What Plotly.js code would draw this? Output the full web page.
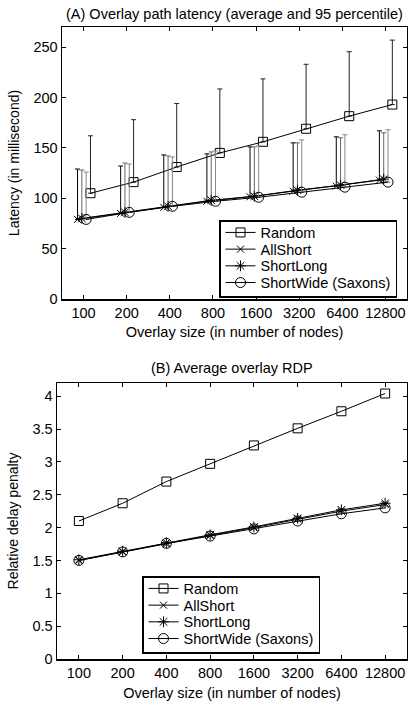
<!DOCTYPE html>
<html>
<head>
<meta charset="utf-8">
<script src="https://cdn.plot.ly/plotly-3.0.1.min.js"></script>
<style>
html,body{margin:0;padding:0;background:#fff;}
#chart{width:408px;height:707px;}
</style>
</head>
<body>
<div id="chart"></div>
<script>
// ---- data ----
const sizes = ['100','200','400','800','1600','3200','6400','12800'];
const seriesNames = ['Random','AllShort','ShortLong','ShortWide (Saxons)'];

// (A) latency: average and 95 percentile (ms)
const randomLat      = [105, 116, 131, 145, 156, 169, 181.5, 193];
const randomLat95    = [162, 178, 194, 208.5, 218.5, 233, 245.5, 257];
const allShortLat    = [79, 85, 91, 97, 101.5, 107, 112, 118];
const allShortLat95  = [129, 132, 143, 144, 151, 155, 161, 167];
const shortLongLat   = [80, 86, 92, 98, 102, 108, 113, 119];
const shortLongLat95 = [128, 135, 142, 146, 151, 155, 160, 165];
const shortWideLat   = [79, 86, 92, 97, 101, 106, 111, 116];
const shortWideLat95 = [126, 134, 141, 147, 152, 158, 163, 168];

// (B) average RDP
const randomRdp    = [2.10, 2.37, 2.70, 2.97, 3.25, 3.51, 3.77, 4.04];
const allShortRdp  = [1.50, 1.63, 1.75, 1.88, 2.00, 2.13, 2.25, 2.35];
const shortLongRdp = [1.51, 1.64, 1.77, 1.89, 2.01, 2.14, 2.27, 2.37];
const shortWideRdp = [1.50, 1.63, 1.76, 1.87, 1.98, 2.10, 2.21, 2.30];

// ---- styles ----
const FONT = 'Liberation Sans, Arial, Helvetica, sans-serif';
const FS = 14.5;
const styles = [
  {symbol:'square-open', size:9, off:0.16, ebColor:'#222'},
  {symbol:'x-thin-open', size:7, off:-0.14, ebColor:'#000'},
  {symbol:'asterisk-open', size:9, off:-0.04, ebColor:'#666'},
  {symbol:'circle-open', size:10, off:0.06, ebColor:'#888'}
];
const idx = sizes.map((s,i)=>i);

const latMeans = [randomLat, allShortLat, shortLongLat, shortWideLat];
const lat95 = [randomLat95, allShortLat95, shortLongLat95, shortWideLat95];
const rdps = [randomRdp, allShortRdp, shortLongRdp, shortWideRdp];

const traces = [];
seriesNames.forEach((name,k)=>{
  const st = styles[k];
  traces.push({
    type:'scatter', mode:'lines+markers', name:name,
    x: idx.map(i=>i+st.off), y: latMeans[k],
    xaxis:'x', yaxis:'y', legend:'legend',
    line:{color:'#000', width:1},
    marker:{symbol:st.symbol, size:st.size, color:'#000', line:{color:'#000', width:1}},
    error_y:{type:'data', symmetric:false,
      array: lat95[k].map((v,i)=>v-latMeans[k][i]),
      arrayminus: latMeans[k].map(()=>0),
      color:st.ebColor, thickness:1, width:2.5}
  });
});
seriesNames.forEach((name,k)=>{
  const st = styles[k];
  traces.push({
    type:'scatter', mode:'lines+markers', name:name,
    x: idx, y: rdps[k],
    xaxis:'x2', yaxis:'y2', legend:'legend2',
    line:{color:'#000', width:1},
    marker:{symbol:st.symbol, size:st.size, color:'#000', line:{color:'#000', width:1}}
  });
});

const axisCommon = {
  showline:true, linecolor:'#000', linewidth:1.5, mirror:'ticks',
  ticks:'inside', ticklen:4, tickcolor:'#000', tickwidth:1,
  showgrid:false, zeroline:false,
  tickfont:{family:FONT, size:FS, color:'#000'}
};

const layout = {
  width:408, height:707,
  margin:{l:0, r:1, t:0, b:0},
  paper_bgcolor:'#fff', plot_bgcolor:'#fff',
  font:{family:FONT, color:'#000'},
  showlegend:true,
  xaxis: Object.assign({}, axisCommon, {
    domain:[62/407, 1], anchor:'y', range:[-0.5, 7.5],
    tickmode:'array', tickvals:idx, ticktext:sizes,
    title:{text:'Overlay size (in number of nodes)', font:{family:FONT, size:FS}, standoff:7}
  }),
  yaxis: Object.assign({}, axisCommon, {
    domain:[1-299/707, 1-27/707], anchor:'x', range:[0, 270], dtick:50, tick0:0,
    title:{text:'Latency (in millisecond)', font:{family:FONT, size:14}, standoff:10}
  }),
  xaxis2: Object.assign({}, axisCommon, {
    domain:[57/407, 1], anchor:'y2', range:[-0.5, 7.5],
    tickmode:'array', tickvals:idx, ticktext:sizes,
    title:{text:'Overlay size (in number of nodes)', font:{family:FONT, size:FS}, standoff:8}
  }),
  yaxis2: Object.assign({}, axisCommon, {
    domain:[1-659/707, 1-383/707], anchor:'x2', range:[0, 4.2], dtick:0.5, tick0:0,
    title:{text:'Relative delay penalty', font:{family:FONT, size:14}, standoff:10}
  }),
  legend:{
    x:219/407, y:1-220/707, xanchor:'left', yanchor:'top',
    bgcolor:'#fff', bordercolor:'#000', borderwidth:1.5,
    font:{family:FONT, size:FS, color:'#000'}, tracegroupgap:0,
    itemwidth:30
  },
  legend2:{
    x:142/407, y:1-576/707, xanchor:'left', yanchor:'top',
    bgcolor:'#fff', bordercolor:'#000', borderwidth:1.5,
    font:{family:FONT, size:FS, color:'#000'}, tracegroupgap:0,
    itemwidth:30
  },
  annotations:[
    {text:'(A) Overlay path latency (average and 95 percentile)', xref:'paper', yref:'paper',
     x:235/407, y:1-14/707, xanchor:'center', yanchor:'middle', showarrow:false,
     font:{family:FONT, size:FS, color:'#000'}},
    {text:'(B) Average overlay RDP', xref:'paper', yref:'paper',
     x:232/407, y:1-368/707, xanchor:'center', yanchor:'middle', showarrow:false,
     font:{family:FONT, size:FS, color:'#000'}}
  ]
};

// tighten legend row spacing to match the compact legend of the reference
function tightenLegends(){
  const rowH = 16.7, lift = 5;
  document.querySelectorAll('.infolayer > g').forEach(g => {
    const cls = g.getAttribute('class') || '';
    if(!/^legend\d*$/.test(cls)) return;
    const items = g.querySelectorAll('g.traces');
    if(items.length < 2) return;
    let y0 = 0, oldH = 0;
    items.forEach((it, i) => {
      const m = /translate\(\s*([-\d.e]+)[\s,]+([-\d.e]+)\s*\)/.exec(it.getAttribute('transform') || '');
      if(!m) return;
      const x = parseFloat(m[1]), y = parseFloat(m[2]);
      if(i === 0) y0 = y; else if(i === 1) oldH = y - y0;
      it.setAttribute('transform', 'translate(' + x + ',' + (y0 - lift + i*rowH) + ')');
    });
    const bg = g.querySelector('rect.bg');
    if(bg && oldH > 0){
      const h = parseFloat(bg.getAttribute('height'));
      bg.setAttribute('height', h - (oldH - rowH)*(items.length-1) - 3 - lift);
    }
  });
}

Plotly.newPlot('chart', traces, layout, {displayModeBar:false, staticPlot:true}).then(tightenLegends);
</script>
</body>
</html>
